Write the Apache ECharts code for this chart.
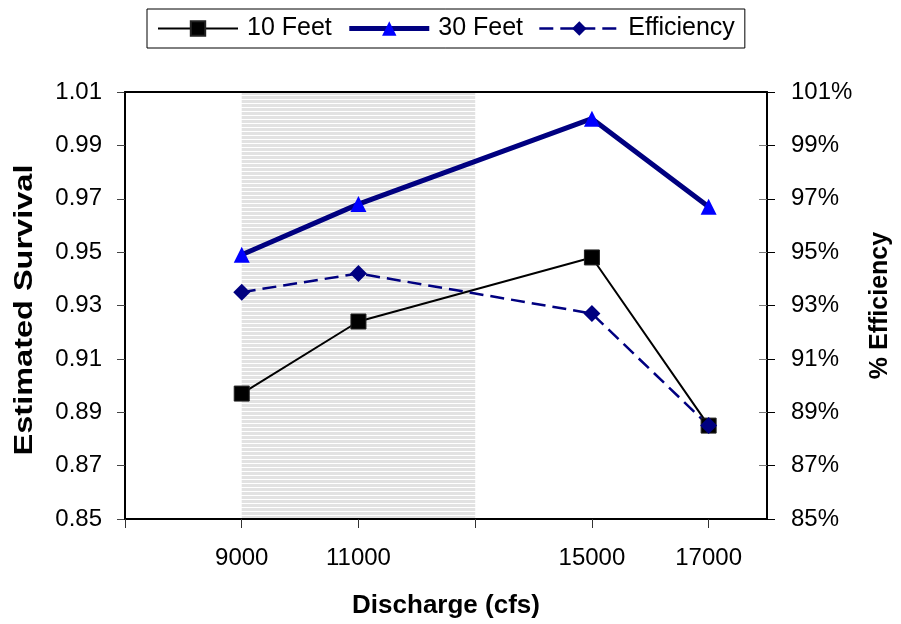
<!DOCTYPE html>
<html>
<head>
<meta charset="utf-8">
<script src="https://cdn.jsdelivr.net/npm/echarts@6/dist/echarts.min.js"></script>
<style>
  html, body { margin: 0; padding: 0; background: #fff; }
  #chart { width: 901px; height: 624px; }
</style>
</head>
<body>
<div id="chart"></div>
<script>
// Discharge levels (cfs) and the measured values at each level
const discharge = [9000, 11000, 15000, 17000];
const survival10ft = [0.897, 0.924, 0.948, 0.885];
const survival30ft = [0.949, 0.968, 1.000, 0.967];
const efficiencyPct = [93.5, 94.2, 92.7, 88.5];

// Shaded discharge band
const shadedBand = [9000, 13000];

// Axis tick positions and labels
const xTickValues = [7000, 9000, 11000, 13000, 15000, 17000];
const xLabelValues = [9000, 11000, 15000, 17000];
const survivalTicks = [0.85, 0.87, 0.89, 0.91, 0.93, 0.95, 0.97, 0.99, 1.01];
const efficiencyTicks = [85, 87, 89, 91, 93, 95, 97, 99, 101];

const FONT = '"Liberation Sans", Arial, Helvetica, sans-serif';

// Striped grey fill for the shaded band
function stripePattern() {
  const c = document.createElement('canvas');
  c.width = 4; c.height = 4;
  const ctx = c.getContext('2d');
  ctx.fillStyle = '#ffffff';
  ctx.fillRect(0, 0, 4, 4);
  ctx.fillStyle = '#e2e2e2';
  ctx.fillRect(0, 0, 4, 3);
  return { image: c, repeat: 'repeat' };
}

const pairs = (vals) => discharge.map((d, i) => [d, vals[i]]);

const chart = echarts.init(document.getElementById('chart'), null, { renderer: 'canvas' });

const yBase = {
  type: 'value',
  splitLine: { show: false },
  axisLine: { show: true, lineStyle: { color: '#000', width: 2 } }
};

chart.setOption({
  animation: false,
  backgroundColor: '#fff',
  textStyle: { fontFamily: FONT },
  grid: { left: 125, right: 131, top: 92, bottom: 104, containLabel: false },
  legend: {
    left: 147,
    top: 9,
    padding: [7, 10],
    borderColor: '#000',
    borderWidth: 1,
    itemWidth: 80,
    itemHeight: 18,
    itemGap: 15,
    textStyle: { fontSize: 25, color: '#000', fontFamily: FONT, padding: [0, 0, 0, 4] },
    data: [
      { name: '10 Feet', lineStyle: { width: 2 } },
      { name: '30 Feet', lineStyle: { width: 5 } },
      { name: 'Efficiency', lineStyle: { width: 2.5 } }
    ]
  },
  graphic: [{
    type: 'text',
    x: 25,
    y: 310,
    rotation: Math.PI / 2,
    scaleX: 1.3,
    style: {
      text: 'Estimated Survival',
      font: 'bold 25px ' + FONT,
      fill: '#000',
      align: 'center',
      verticalAlign: 'middle'
    }
  }],
  xAxis: [{
    type: 'value',
    min: 7000,
    max: 18000,
    z: 5,
    name: 'Discharge (cfs)',
    nameLocation: 'middle',
    nameGap: 74,
    nameTextStyle: { fontSize: 26, fontWeight: 'bold', color: '#000', fontFamily: FONT },
    splitLine: { show: false },
    axisLine: { show: true, onZero: false, lineStyle: { color: '#000', width: 2 } },
    axisTick: { show: true, length: 9, customValues: xTickValues, lineStyle: { color: '#333', width: 1 } },
    axisLabel: {
      customValues: xLabelValues,
      fontSize: 24,
      color: '#000',
      margin: 27,
      fontFamily: FONT,
      formatter: (v) => String(v)
    }
  }, {
    type: 'value',
    position: 'top',
    min: 7000,
    max: 18000,
    z: 5,
    splitLine: { show: false },
    axisLine: { show: true, onZero: false, lineStyle: { color: '#000', width: 2 } },
    axisTick: { show: false },
    axisLabel: { show: false }
  }],
  yAxis: [Object.assign({}, yBase, {
    position: 'left',
    min: 0.85,
    max: 1.01,
    axisTick: { show: true, length: 8, customValues: survivalTicks, lineStyle: { color: '#444', width: 1 } },
    axisLabel: {
      customValues: survivalTicks,
      fontSize: 24,
      color: '#000',
      margin: 23,
      fontFamily: FONT,
      formatter: (v) => v.toFixed(2)
    }
  }), Object.assign({}, yBase, {
    position: 'right',
    min: 85,
    max: 101,
    name: '% Efficiency',
    nameLocation: 'middle',
    nameRotate: 90,
    nameGap: 101,
    nameTextStyle: { fontSize: 25, fontWeight: 'bold', color: '#000', fontFamily: FONT },
    axisTick: { show: true, length: 8, customValues: efficiencyTicks, lineStyle: { color: '#000', width: 1 } },
    axisLabel: {
      customValues: efficiencyTicks,
      fontSize: 24,
      color: '#000',
      margin: 24,
      fontFamily: FONT,
      formatter: (v) => v + '%'
    }
  }), Object.assign({}, yBase, {
    // inner half of the right-hand tick marks
    position: 'right',
    min: 85,
    max: 101,
    axisLine: { show: false },
    axisTick: { show: true, inside: true, length: 8, customValues: efficiencyTicks, lineStyle: { color: '#777', width: 1 } },
    axisLabel: { show: false }
  })],
  series: [{
    name: '10 Feet',
    type: 'line',
    xAxisIndex: 0,
    yAxisIndex: 0,
    data: pairs(survival10ft),
    symbol: 'rect',
    symbolSize: 15,
    lineStyle: { color: '#000', width: 2 },
    itemStyle: { color: '#000', borderColor: '#222', borderWidth: 1 },
    markArea: {
      silent: true,
      itemStyle: { color: stripePattern() },
      data: [[{ xAxis: shadedBand[0] }, { xAxis: shadedBand[1] }]]
    }
  }, {
    name: '30 Feet',
    type: 'line',
    xAxisIndex: 0,
    yAxisIndex: 0,
    data: pairs(survival30ft),
    symbol: 'triangle',
    symbolSize: 16,
    lineStyle: { color: '#000080', width: 5 },
    itemStyle: { color: '#0000ff' }
  }, {
    name: 'Efficiency',
    type: 'line',
    xAxisIndex: 0,
    yAxisIndex: 1,
    data: pairs(efficiencyPct),
    symbol: 'diamond',
    symbolSize: 17,
    lineStyle: { color: '#000080', width: 2.5, type: [14, 7] },
    itemStyle: { color: '#000080' }
  }]
});
</script>
</body>
</html>
